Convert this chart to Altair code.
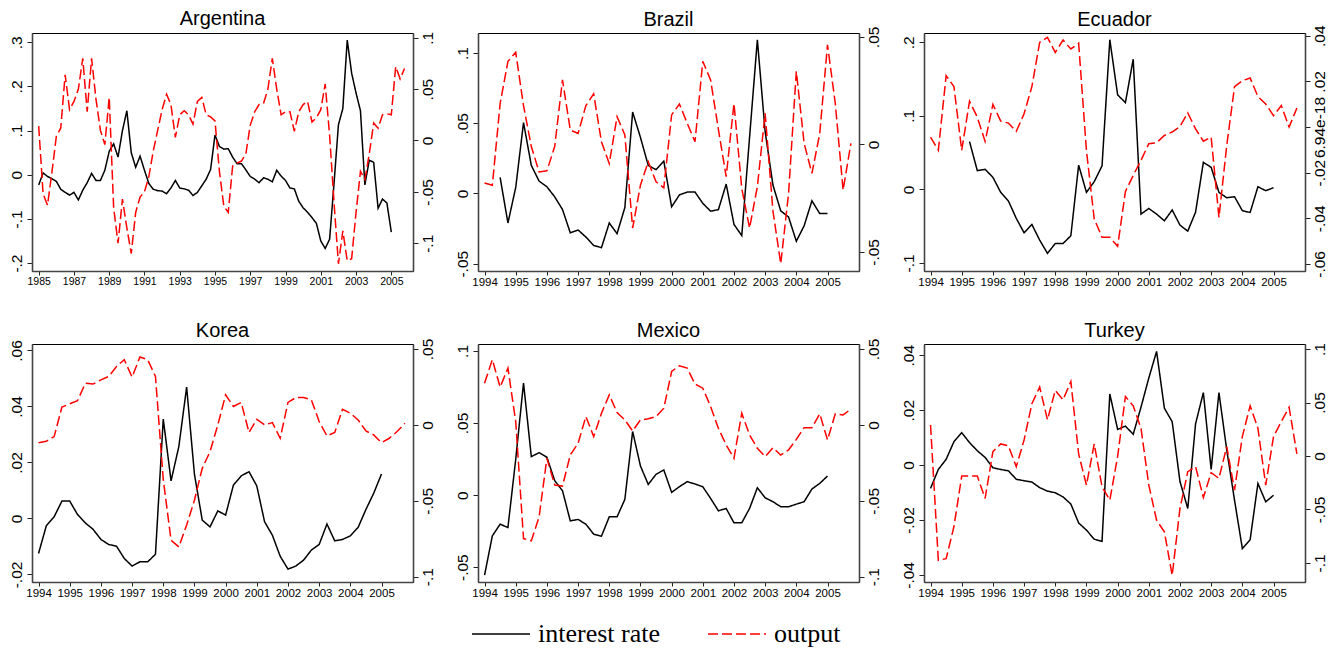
import altair as alt
import pandas as pd

SERIES = ["interest rate", "output"]

# ---------------- data (quarterly) ----------------
# Argentina: interest rate 1985Q1-2005Q1, output 1985Q1-2005Q4
arg_ir_start = 1985.0
arg_ir = [
    -0.023, 0.004, -0.004, -0.009,
    -0.015, -0.033, -0.040, -0.046,
    -0.040, -0.057, -0.035, -0.018,
    0.003, -0.013, -0.013, 0.010,
    0.053, 0.070, 0.040, 0.100,
    0.145, 0.050, 0.017, 0.042,
    0.010, -0.020, -0.033, -0.036,
    -0.037, -0.043, -0.030, -0.013,
    -0.030, -0.032, -0.035, -0.047,
    -0.040, -0.025, -0.010, 0.012,
    0.090, 0.064, 0.058, 0.059,
    0.040, 0.025, 0.025, 0.011,
    -0.004, -0.010, -0.018, -0.007,
    -0.010, -0.016, 0.010, -0.003,
    -0.013, -0.030, -0.032, -0.060,
    -0.075, -0.085, -0.097, -0.110,
    -0.150, -0.167, -0.146, -0.020,
    0.113, 0.150, 0.305, 0.230,
    0.185, 0.145, -0.023, 0.033,
    0.028, -0.076, -0.055, -0.064,
    -0.130,
]
arg_out_start = 1985.0
arg_out = [
    0.014, -0.052, -0.063, -0.031,
    0.004, 0.012, 0.064, 0.030,
    0.038, 0.050, 0.080, 0.028,
    0.080, 0.040, 0.010, -0.004,
    0.042, -0.065, -0.100, -0.057,
    -0.085, -0.110, -0.070, -0.055,
    -0.050, -0.035, -0.010, 0.010,
    0.030, 0.045, 0.035, 0.003,
    0.025, 0.029, 0.025, 0.016,
    0.038, 0.042, 0.025, 0.023,
    0.019, -0.030, -0.064, -0.070,
    -0.025, -0.022, -0.020, -0.013,
    0.015, 0.028, 0.035, 0.036,
    0.050, 0.080, 0.050, 0.025,
    0.028, 0.028, 0.009, 0.028,
    0.035, 0.038, 0.018, 0.022,
    0.030, 0.055, 0.005, -0.060,
    -0.120, -0.088, -0.117, -0.115,
    -0.070, -0.030, -0.038, -0.013,
    0.017, 0.012, 0.025, 0.026,
    0.025, 0.072, 0.060, 0.070,
]

# Brazil
bra_ir_start = 1994.5
bra_ir = [
    0.0114, -0.0210,
    0.0043, 0.0505, 0.0200, 0.0088,
    0.0048, -0.0024, -0.0114, -0.0280,
    -0.0260, -0.0310, -0.0370, -0.0386,
    -0.0210, -0.0286, -0.0100, 0.0580,
    0.0400, 0.0200, 0.0170, 0.0230,
    -0.0095, -0.0010, 0.0010, 0.0010,
    -0.0070, -0.0126, -0.0115, 0.0067,
    -0.0220, -0.0300, 0.0400, 0.1095,
    0.0440, 0.0060, -0.0124, -0.0167,
    -0.0340, -0.0230, -0.0052, -0.0143,
    -0.0143,
]
bra_out_start = 1994.0
bra_out = [
    -0.0180, -0.0190, 0.0190, 0.0386,
    0.0428, 0.0180, -0.0010, -0.0128,
    -0.0123, -0.0010, 0.0300, 0.0067,
    0.0051, 0.0180, 0.0235, 0.0012,
    -0.0089, 0.0129, 0.0044, -0.0389,
    -0.0190, -0.0081, -0.0174, -0.0202,
    0.0137, 0.0188, 0.0098, 0.0012,
    0.0386, 0.0300, 0.0070, -0.0150,
    0.0190, -0.0205, -0.0389, -0.0197,
    0.0145, -0.0310, -0.0555, -0.0230,
    0.0340, 0.0005, -0.0135, 0.0050,
    0.0463, 0.0190, -0.0213, 0.0005,
]

# Ecuador
ecu_ir_start = 1995.25
ecu_ir = [
    0.0650, 0.0255, 0.0273,
    0.0164, -0.0040, -0.0160, -0.0395,
    -0.0590, -0.0477, -0.0690, -0.0870,
    -0.0736, -0.0736, -0.0630, 0.0330,
    -0.0040, 0.0105, 0.0320, 0.2036,
    0.1286, 0.1180, 0.1770, -0.0336,
    -0.0260, -0.0336, -0.0427, -0.0280,
    -0.0486, -0.0568, -0.0310, 0.0368,
    0.0300, -0.0040, -0.0114, -0.0100,
    -0.0290, -0.0314, 0.0036, -0.0018,
    0.0023,
]
ecu_out_start = 1994.0
ecu_out = [
    -0.0044, -0.0102, 0.0225, 0.0177,
    -0.0102, 0.0113, 0.0043, -0.0063,
    0.0099, 0.0026, 0.0017, -0.0019,
    0.0058, 0.0177, 0.0371, 0.0393,
    0.0327, 0.0381, 0.0342, 0.0367,
    -0.0103, -0.0403, -0.0483, -0.0483,
    -0.0523, -0.0283, -0.0212, -0.0146,
    -0.0073, -0.0069, -0.0037, -0.0022,
    0.0002, 0.0062, -0.0008, -0.0062,
    -0.0044, -0.0396, -0.0081, 0.0177,
    0.0203, 0.0215, 0.0133, 0.0101,
    0.0050, 0.0094, 0.0000, 0.0083,
]

# Korea
kor_ir_start = 1994.0
kor_ir = [
    -0.0125, -0.0026, 0.0006, 0.0062,
    0.0062, 0.0014, -0.0016, -0.0039,
    -0.0075, -0.0093, -0.0099, -0.0143,
    -0.0170, -0.0155, -0.0155, -0.0128,
    0.0355, 0.0134, 0.0257, 0.0469,
    0.0158, -0.0006, -0.0030, 0.0027,
    0.0012, 0.0119, 0.0152, 0.0167,
    0.0116, -0.0012, -0.0060, -0.0135,
    -0.0181, -0.0170, -0.0149, -0.0113,
    -0.0093, -0.0020, -0.0080, -0.0075,
    -0.0062, -0.0032, 0.0032, 0.0090,
    0.0159,
]
kor_out_start = 1994.0
kor_out = [
    -0.0117, -0.0108, -0.0077, 0.0117,
    0.0139, 0.0159, 0.0275, 0.0269,
    0.0297, 0.0319, 0.0385, 0.0430,
    0.0315, 0.0447, 0.0430, 0.0319,
    -0.0360, -0.0760, -0.0804, -0.0660,
    -0.0496, -0.0286, -0.0176, 0.0000,
    0.0198, 0.0121, 0.0148, -0.0050,
    0.0037, 0.0000, 0.0015, -0.0088,
    0.0148, 0.0180, 0.0180, 0.0165,
    0.0022, -0.0073, -0.0050, 0.0103,
    0.0077, 0.0033, -0.0040, -0.0066,
    -0.0117, -0.0088, -0.0044, 0.0011,
]

# Mexico
mex_ir_start = 1994.0
mex_ir = [
    -0.0556, -0.0283, -0.0202, -0.0225,
    0.0248, 0.0777, 0.0267, 0.0294,
    0.0262, 0.0100, 0.0030, -0.0179,
    -0.0169, -0.0202, -0.0271, -0.0285,
    -0.0151, -0.0151, -0.0030, 0.0441,
    0.0202, 0.0074, 0.0144, 0.0174,
    0.0019, 0.0058, 0.0093, 0.0077,
    0.0058, -0.0023, -0.0109, -0.0093,
    -0.0192, -0.0192, -0.0093, 0.0051,
    -0.0019, -0.0046, -0.0081, -0.0081,
    -0.0063, -0.0046, 0.0042, 0.0081,
    0.0132,
]
mex_out_start = 1994.0
mex_out = [
    0.0275, 0.0430, 0.0249, 0.0374,
    0.0022, -0.0749, -0.0764, -0.0606,
    -0.0220, -0.0396, -0.0403, -0.0198,
    -0.0121, 0.0055, -0.0077, 0.0077,
    0.0198, 0.0081, 0.0033, -0.0040,
    0.0033, 0.0040, 0.0055, 0.0110,
    0.0352, 0.0390, 0.0374, 0.0269,
    0.0242, 0.0121, -0.0022, -0.0132,
    -0.0220, 0.0077, -0.0066, -0.0154,
    -0.0209, -0.0150, -0.0198, -0.0165,
    -0.0095, -0.0018, -0.0018, 0.0073,
    -0.0099, 0.0073, 0.0066, 0.0104,
]

# Turkey
tur_ir_start = 1994.0
tur_ir = [
    -0.0085, -0.0016, 0.0021, 0.0085,
    0.0118, 0.0082, 0.0052, 0.0028,
    -0.0010, -0.0016, -0.0021, -0.0052,
    -0.0057, -0.0062, -0.0082, -0.0095,
    -0.0101, -0.0116, -0.0142, -0.0211,
    -0.0237, -0.0270, -0.0278, 0.0259,
    0.0130, 0.0142, 0.0112, 0.0211,
    0.0317, 0.0414, 0.0207, 0.0158,
    -0.0060, -0.0158, 0.0150, 0.0264,
    -0.0016, 0.0264, 0.0055, -0.0128,
    -0.0304, -0.0272, -0.0067, -0.0134,
    -0.0110,
]
tur_out_start = 1994.0
tur_out = [
    0.0290, -0.0975, -0.0960, -0.0660,
    -0.0188, -0.0188, -0.0188, -0.0397,
    0.0041, 0.0113, 0.0094, -0.0100,
    0.0150, 0.0488, 0.0644, 0.0338,
    0.0613, 0.0525, 0.0697, 0.0019,
    -0.0272, 0.0113, -0.0288, -0.0413,
    -0.0006, 0.0556, 0.0469, 0.0259,
    -0.0272, -0.0600, -0.0709, -0.1116,
    -0.0490, -0.0147, -0.0100, -0.0388,
    -0.0156, -0.0209, 0.0088, -0.0319,
    0.0181, 0.0469, 0.0259, -0.0272,
    0.0181, 0.0322, 0.0456, 0.0019,
]

# axis ticks / ranges
arg_xticks = [1985, 1987, 1989, 1991, 1993, 1995, 1997, 1999, 2001, 2003, 2005]
std_xticks = list(range(1994, 2006))

# ---------------- styling ----------------
W, H = 381, 238
SANS = "Liberation Sans"
LABEL_EXPR = "(datum.value < 0 ? '-' : '') + replace(format(abs(datum.value), '~g'), '0.', '.')"

color_scale = alt.Scale(domain=SERIES, range=["black", "red"])
dash_scale = alt.Scale(domain=SERIES, range=[[1, 0], [10, 4]])
legend = alt.Legend(
    orient="none", legendX=439, legendY=571, direction="horizontal", title=None,
    symbolType="stroke", symbolSize=3364, symbolStrokeWidth=1.6,
    labelFont="Liberation Serif", labelFontSize=26, labelColor="black",
    columnPadding=44, labelOffset=7, padding=0,
)


def quarters(start, values):
    return [start + 0.25 * i for i in range(len(values))]


def yaxis(ticks, orient):
    return alt.Axis(
        values=ticks, orient=orient, title=None, labelExpr=LABEL_EXPR,
        labelAngle=270, labelAlign="center",
        labelBaseline="bottom" if orient == "left" else "top",
        labelFont=SANS, labelFontSize=15.5, labelColor="black",
        labelPadding=3 if orient == "left" else 2, labelOverlap=False, labelFlush=False,
        tickSize=5, tickColor="#222", tickWidth=1,
        domainColor="#444", domainWidth=1.6, grid=False,
    )


def panel(name, dy, ir_start, ir, out_start, out, xdom, xticks, xfont, ldom, lticks, rdom, rticks):
    df_ir = pd.DataFrame({"t": quarters(ir_start, ir), "v": ir, "s": SERIES[0]})
    df_out = pd.DataFrame({"t": quarters(out_start, out), "v": out, "s": SERIES[1]})
    x = alt.X(
        "t:Q", scale=alt.Scale(domain=xdom, nice=False, zero=False),
        axis=alt.Axis(values=xticks, format="d", title=None, labelFont=SANS, labelFontSize=xfont,
                      labelColor="black", labelFlush=False, labelOverlap=False, labelPadding=1,
                      tickSize=4, tickColor="#222", domainColor="#444", domainWidth=1.6, grid=False),
    )
    color = alt.Color("s:N", scale=color_scale, legend=legend)
    dash = alt.StrokeDash("s:N", scale=dash_scale, legend=legend)
    left = alt.Chart(df_ir).mark_line(strokeWidth=1.5).encode(
        x=x,
        y=alt.Y("v:Q", scale=alt.Scale(domain=ldom, nice=False, zero=False), axis=yaxis(lticks, "left")),
        color=color, strokeDash=dash,
    )
    right = alt.Chart(df_out).mark_line(strokeWidth=1.5).encode(
        x=x,
        y=alt.Y("v:Q", scale=alt.Scale(domain=rdom, nice=False, zero=False), axis=yaxis(rticks, "right")),
        color=color, strokeDash=dash,
    )
    return alt.layer(left, right).resolve_scale(y="independent").properties(
        width=W, height=H,
        title=alt.TitleParams(name, font=SANS, fontSize=20, fontWeight="normal", color="black",
                              anchor="middle", offset=5, dy=dy),
    )


XD_ARG = [1984.62, 2006.23]
XD = [1993.79, 2006.01]

p_arg = panel("Argentina", 3, arg_ir_start, arg_ir, arg_out_start, arg_out, XD_ARG, arg_xticks, 10.5,
              [-0.218, 0.321], [-0.2, -0.1, 0, 0.1, 0.2, 0.3],
              [-0.127, 0.1046], [-0.1, -0.05, 0, 0.05, 0.1])
p_bra = panel("Brazil", 9, bra_ir_start, bra_ir, bra_out_start, bra_out, XD, std_xticks, 11.5,
              [-0.0552, 0.1143], [-0.05, 0, 0.05, 0.1],
              [-0.0589, 0.0518], [-0.05, 0, 0.05])
p_ecu = panel("Ecuador", 10, ecu_ir_start, ecu_ir, ecu_out_start, ecu_out, XD, std_xticks, 11.5,
              [-0.111, 0.2127], [-0.1, 0, 0.1, 0.2],
              [-0.0631, 0.0412], [-0.06, -0.04, -0.02, 6.94e-18, 0.02, 0.04])
p_kor = panel("Korea", 8, kor_ir_start, kor_ir, kor_out_start, kor_out, XD, std_xticks, 11.5,
              [-0.0227, 0.0623], [-0.02, 0, 0.02, 0.04, 0.06],
              [-0.1035, 0.0533], [-0.1, -0.05, 0, 0.05])
p_mex = panel("Mexico", 8, mex_ir_start, mex_ir, mex_out_start, mex_out, XD, std_xticks, 11.5,
              [-0.0603, 0.1048], [-0.05, 0, 0.05, 0.1],
              [-0.1035, 0.0533], [-0.1, -0.05, 0, 0.05])
p_tur = panel("Turkey", 3, tur_ir_start, tur_ir, tur_out_start, tur_out, XD, std_xticks, 11.5,
              [-0.0426, 0.0441], [-0.04, -0.02, 0, 0.02, 0.04],
              [-0.1178, 0.1047], [-0.1, -0.05, 0, 0.05, 0.1])

chart = alt.concat(
    p_arg, p_bra, p_ecu, p_kor, p_mex, p_tur,
    columns=3, spacing={"row": 73, "column": 65}, bounds="flush",
).resolve_scale(
    color="shared", strokeDash="shared"
).properties(
    padding={"left": 8, "top": 8, "right": 2, "bottom": 0},
    background="white",
).configure_view(
    stroke="black", strokeWidth=1,
)

chart.save("out.html", embed_options={"renderer": "svg", "actions": False})
